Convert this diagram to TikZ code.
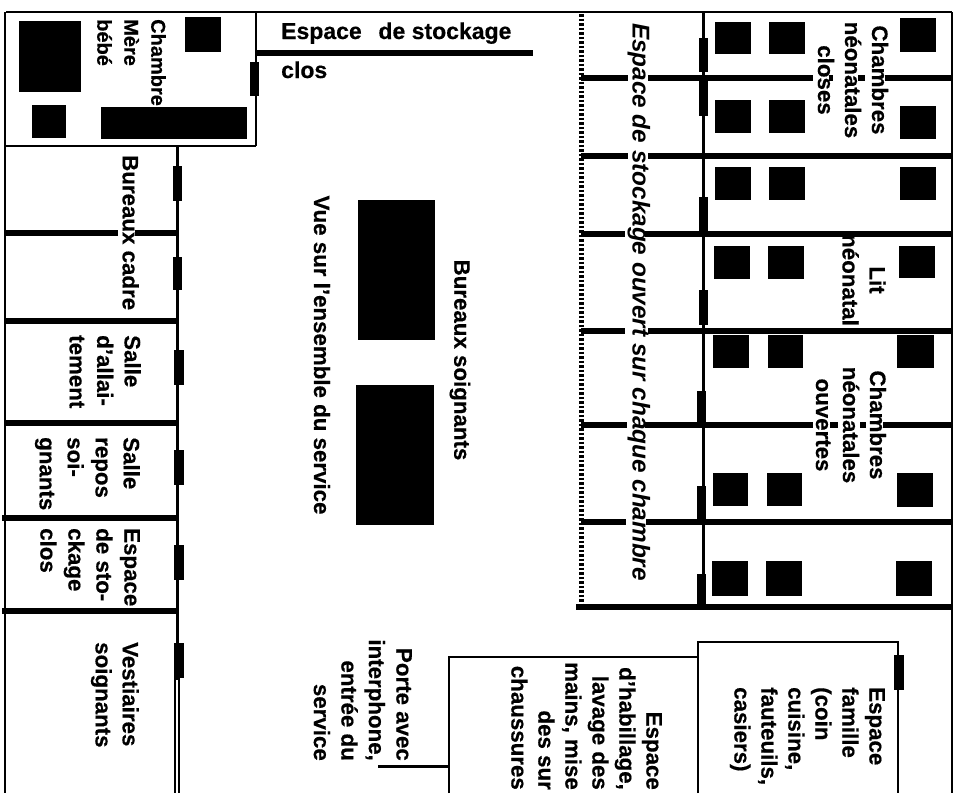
\documentclass[tikz,border=0pt]{standalone}
\usepackage{fontspec}
\setmainfont{Liberation Sans}[BoldFeatures={FakeBold=0.5}]
\tikzset{
  wall/.style={line width=6pt,black},
  thin wall/.style={line width=2.2pt,black},
  mid wall/.style={line width=3pt,black},
  solid block/.style={fill=black,draw=none},
  lab/.style={rotate=-90,inner sep=0pt,font=\fontsize{22.3}{27}\selectfont\bfseries},
  lableft/.style={lab,align=left,anchor=north west},
  labcenter/.style={lab,align=center,anchor=center},
  labright/.style={lab,align=right,anchor=north east},
  hlab/.style={inner sep=0pt,font=\fontsize{23}{27}\selectfont\bfseries,anchor=base west},
}
\newcommand{\blk}[4]{\path[solid block] (#1,#2) rectangle (#3,#4);}
\begin{document}
\begin{tikzpicture}[x=1pt,y=-1pt]
\useasboundingbox (0,0) rectangle (953,793);
% outer lines
\draw[thin wall] (6,12) -- (952,12);
\draw[thin wall] (952,12) -- (952,793);
\draw[thin wall] (5,12) -- (5,793);
% mother-baby room
\draw[thin wall] (5,146) -- (256,146);
\draw[thin wall] (256,12) -- (256,146);
\draw[wall] (256,53) -- (533,53);
\blk{250}{62}{259}{96}
\blk{19}{21}{81}{92}
\blk{185}{17}{221}{52}
\blk{32}{105}{66}{138}
\blk{101}{107}{247}{139}
% left rooms
\draw[mid wall] (177,146) -- (177,680);
\draw[line width=1.4pt] (175,678) -- (175,793);
\draw[line width=1.4pt] (179,678) -- (179,793);
\draw[wall] (4,233) -- (118,233);
\draw[wall] (135,233) -- (177,233);
\draw[wall] (4,321) -- (177,321);
\draw[wall] (4,423) -- (177,423);
\draw[wall] (2,518) -- (177,518);
\draw[wall] (2,611) -- (177,611);
\blk{173}{166}{182}{201}
\blk{173}{257}{182}{290}
\blk{174}{350}{184}{385}
\blk{174}{450}{184}{485}
\blk{174}{545}{184}{580}
\blk{174}{643}{184}{678}
% central desks
\blk{358}{200}{435}{340}
\blk{356}{385}{434}{525}
% neonatal rooms
\draw[line width=5pt,dash pattern=on 2.5pt off 2pt] (581,14) -- (581,606);
\draw[mid wall] (703,12) -- (703,606);
\draw[wall] (581,78) -- (628,78);
\draw[wall] (648,78) -- (813,78);
\draw[wall] (885,78) -- (952,78);
\draw[wall] (829,78) -- (833,78);
\draw[wall] (858,78) -- (865,78);
\draw[wall] (581,156) -- (628,156);
\draw[wall] (648,156) -- (952,156);
\draw[wall] (581,234) -- (625,234);
\draw[wall] (645,234) -- (952,234);
\draw[wall] (581,331) -- (625,331);
\draw[wall] (648,331) -- (952,331);
\draw[wall] (581,425) -- (627,425);
\draw[wall] (645,425) -- (813,425);
\draw[wall] (830,425) -- (838,425);
\draw[wall] (860,425) -- (866,425);
\draw[wall] (883,425) -- (952,425);
\draw[wall] (581,522) -- (626,522);
\draw[wall] (646,522) -- (952,522);
\draw[wall] (576,607) -- (952,607);
% room doors
\blk{699}{38}{708}{72}
\blk{699}{80}{708}{116}
\blk{699}{197}{708}{232}
\blk{699}{290}{708}{325}
\blk{697}{391}{706}{423}
\blk{697}{486}{706}{520}
\blk{697}{574}{706}{605}
% furniture
\blk{715}{22}{751}{54}\blk{769}{22}{805}{54}\blk{900}{18}{936}{52}
\blk{715}{100}{751}{133}\blk{769}{100}{805}{133}\blk{900}{106}{936}{139}
\blk{715}{167}{751}{200}\blk{769}{167}{805}{200}\blk{900}{167}{936}{200}
\blk{714}{246}{750}{279}\blk{768}{246}{804}{279}\blk{899}{246}{935}{278}
\blk{713}{335}{749}{368}\blk{768}{335}{803}{368}\blk{897}{335}{934}{368}
\blk{713}{473}{748}{506}\blk{767}{473}{802}{506}\blk{897}{473}{933}{507}
\blk{712}{561}{748}{596}\blk{766}{561}{802}{596}\blk{896}{561}{932}{596}
% bottom rooms
\draw[thin wall] (449,793) -- (449,657) -- (698,657);
\draw[thin wall] (698,793) -- (698,642) -- (898,642) -- (898,793);
\draw[mid wall] (378,766) -- (449,766);
\blk{894}{655}{904}{690}
% labels
\node[hlab] (stockA) at (281,39) {Espace\hspace{.45em} de stockage};
\node[hlab] (stockB) at (281,78) {clos};
\node[lableft,font=\fontsize{20}{27}\selectfont\bfseries] (mere) at (166,19) {Chambre\\Mère\\bébé};
\node[lableft] (cadre) at (139,155) {Bureaux cadre};
\node[lableft,font=\fontsize{22.3}{27.5}\selectfont\bfseries] (allait) at (141,335) {Salle\\d'allai-\\tement};
\node[lableft,font=\fontsize{22.3}{28}\selectfont\bfseries] (repos) at (140,437) {Salle\\repos\\soi-\\gnants};
\node[lableft,font=\fontsize{22.3}{28}\selectfont\bfseries] (closL) at (140,528) {Espace\\de sto-\\ckage\\clos};
\node[lableft] (vest) at (139,642) {Vestiaires\\soignants};
\node[labcenter] (vue) at (322,355) {Vue sur l'ensemble du service};
\node[labcenter] (soign) at (460,360) {Bureaux soignants};
\node[labcenter,font=\fontsize{24.3}{27}\selectfont\bfseries\itshape] (ouvert) at (639,302) {Espace de stockage ouvert sur chaque chambre};
\node[labcenter] (closes) at (853,80) {Chambres\\néonatales\\closes};
\node[labcenter] (lit) at (864,280) {Lit\\néonatal};
\node[labcenter] (ouv) at (851,425) {Chambres\\néonatales\\ouvertes};
\node[labright,font=\fontsize{22.3}{27.5}\selectfont\bfseries] (porte) at (412,761) {Porte avec\\interphone,\\entrée du\\service};
\node[labright] (hab) at (662,790) {Espace\\d'habillage,\\lavage des\\mains, mise\\des sur\\chaussures};
\node[lableft] (fam) at (885,687) {Espace\\famille\\(coin\\cuisine,\\fauteuils,\\casiers)};
\end{tikzpicture}
\end{document}
